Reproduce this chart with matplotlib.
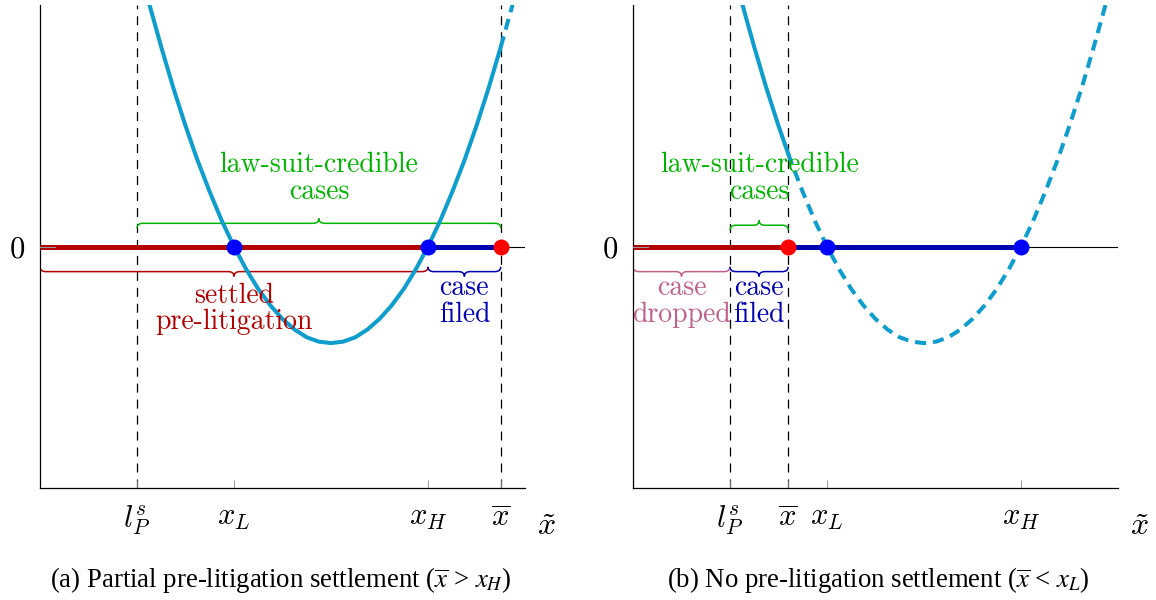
import matplotlib.pyplot as plt
from matplotlib.path import Path
from matplotlib.patches import PathPatch

plt.rcParams['mathtext.fontset'] = 'cm'
plt.rcParams['lines.scale_dashes'] = False

# payoff curve (same shape in both panels)
curve_x = [2.25, 2.5, 2.75, 3.0, 3.2, 3.25, 3.5, 3.75, 4.0, 4.25, 4.5, 4.75,
           5.0, 5.25, 5.5, 5.75, 6.0, 6.25, 6.5, 6.75, 7.0, 7.25, 7.5,
           7.75, 8.0, 8.25, 8.5, 8.75, 9.0, 9.25, 9.5, 9.75]
curve_y = [5.03, 4.13, 3.28, 2.5, 1.92, 1.78, 1.13, 0.53, 0.0, -0.47, -0.88,
           -1.22, -1.5, -1.72, -1.88, -1.97, -2.0, -1.97, -1.88, -1.72,
           -1.5, -1.22, -0.88, -0.47, 0.0, 0.53, 1.13, 1.78, 2.5, 3.28,
           4.13, 5.03]

# panel (a): partial pre-litigation settlement
a_l, a_xL, a_xH, a_xbar = 2.0, 4.0, 8.0, 9.5
a_ticks = [a_l, a_xL, a_xH, a_xbar]
a_ticklabels = [r'$l_P^s$', r'$x_L$', r'$x_H$', r'$\overline{x}$']

# panel (b): no pre-litigation settlement
b_l, b_xbar, b_xL, b_xH = 2.0, 3.2, 4.0, 8.0
b_ticks = [b_l, b_xbar, b_xL, b_xH]
b_ticklabels = [r'$l_P^s$', r'$\overline{x}$', r'$x_L$', r'$x_H$']

captions = [r'(a) Partial pre-litigation settlement ($\overline{x}$ > $x_H$)',
            r'(b) No pre-litigation settlement ($\overline{x}$ < $x_L$)']

CURVE = '#0e9dcc'
RED = '#b30000'
BLUE = '#0000b3'
GREEN = '#00b300'
PINK = '#c0608c'


def brace(ax, x1, x2, y0, up, color):
    s = 1 if up else -1
    r, h = 0.12, 0.1
    xm = (x1 + x2) / 2
    verts = [(x1, y0 - s * h), (x1, y0), (x1 + r, y0),
             (xm - r, y0), (xm, y0), (xm, y0 + s * h),
             (xm, y0), (xm + r, y0),
             (x2 - r, y0), (x2, y0), (x2, y0 - s * h)]
    codes = [Path.MOVETO, Path.CURVE3, Path.CURVE3, Path.LINETO,
             Path.CURVE3, Path.CURVE3, Path.CURVE3, Path.CURVE3,
             Path.LINETO, Path.CURVE3, Path.CURVE3]
    ax.add_patch(PathPatch(Path(verts, codes), fill=False, ec=color,
                           lw=1.1, zorder=2))


def label(ax, x, ys, strs, color):
    for y, s in zip(ys, strs):
        ax.text(x, y, s, ha='center', va='baseline', color=color,
                fontsize=20, family='cmr10', zorder=6)


def setup(ax, ticks, ticklabels):
    ax.set_xlim(0, 10)
    ax.set_ylim(-5, 5)
    ax.spines['top'].set_visible(False)
    ax.spines['right'].set_visible(False)
    ax.spines['left'].set_linewidth(0.9)
    ax.spines['bottom'].set_linewidth(0.9)
    ax.set_xticks(ticks)
    ax.set_xticklabels(ticklabels)
    ax.tick_params(axis='x', direction='in', length=6, width=0.6,
                   color='0.55', labelsize=22, pad=11)
    ax.set_yticks([0])
    ax.set_yticklabels(['0'])
    ax.tick_params(axis='y', length=0, pad=11, labelsize=22)
    for t in ax.get_yticklabels():
        t.set_family('cmr10')
    ax.axhline(0, color='black', lw=0.8, zorder=1)
    ax.plot([0, 0.3], [0, 0], color='0.6', lw=0.8, zorder=4)
    ax.text(10.45, -0.08, r'$\tilde{x}$', transform=ax.get_xaxis_transform(),
            ha='center', va='center', fontsize=23)


def curve(ax, xbar):
    sx = [x for x in curve_x if x <= xbar]
    sy = [y for x, y in zip(curve_x, curve_y) if x <= xbar]
    dx = [x for x in curve_x if x >= xbar]
    dy = [y for x, y in zip(curve_x, curve_y) if x >= xbar]
    ax.plot(sx, sy, color=CURVE, lw=2.9, zorder=4, solid_joinstyle='round')
    ax.plot(dx, dy, color=CURVE, lw=2.9, zorder=4, dashes=(8, 5),
            dash_capstyle='butt')


fig = plt.figure(figsize=(11.56, 6), dpi=100)
axa = fig.add_axes([40 / 1156, 112 / 600, 485 / 1156, 483 / 600])
axb = fig.add_axes([633 / 1156, 112 / 600, 485 / 1156, 483 / 600])

# ---- panel (a)
setup(axa, a_ticks, a_ticklabels)
for x in [a_l, a_xbar]:
    axa.axvline(x, color='black', lw=0.9, dashes=(6.5, 5), zorder=1)
axa.plot([0, a_xH], [0, 0], color=RED, lw=3.6, solid_capstyle='butt', zorder=3)
axa.plot([a_xH, a_xbar], [0, 0], color=BLUE, lw=3.6, solid_capstyle='butt', zorder=3)
curve(axa, a_xbar)
axa.plot([a_xL, a_xH], [0, 0], 'o', color='#0000ff', ms=11.5, mew=0, zorder=5)
axa.plot([a_xbar], [0], 'o', color='#ff0000', ms=11.5, mew=0, zorder=5)
brace(axa, a_l, a_xbar, 0.48, True, GREEN)
brace(axa, 0, a_xH, -0.52, False, RED)
brace(axa, a_xH, a_xbar, -0.52, False, BLUE)
label(axa, (a_l + a_xbar) / 2, [1.55, 0.99], ['law-suit-credible', 'cases'], GREEN)
label(axa, a_xH / 2, [-1.16, -1.70], ['settled', 'pre-litigation'], RED)
label(axa, (a_xH + a_xbar) / 2, [-1.01, -1.57], ['case', 'filed'], BLUE)

# ---- panel (b)
setup(axb, b_ticks, b_ticklabels)
for x in [b_l, b_xbar]:
    axb.axvline(x, color='black', lw=0.9, dashes=(6.5, 5), zorder=1)
axb.plot([0, b_xbar], [0, 0], color=RED, lw=3.6, solid_capstyle='butt', zorder=3)
axb.plot([b_xbar, b_xH], [0, 0], color=BLUE, lw=3.6, solid_capstyle='butt', zorder=3)
curve(axb, b_xbar)
axb.plot([b_xL, b_xH], [0, 0], 'o', color='#0000ff', ms=11.5, mew=0, zorder=5)
axb.plot([b_xbar], [0], 'o', color='#ff0000', ms=11.5, mew=0, zorder=5)
brace(axb, b_l, b_xbar, 0.44, True, GREEN)
brace(axb, 0, b_l, -0.52, False, PINK)
brace(axb, b_l, b_xbar, -0.52, False, BLUE)
label(axb, (b_l + b_xbar) / 2, [1.55, 0.99], ['law-suit-credible', 'cases'], GREEN)
label(axb, b_l / 2, [-1.01, -1.57], ['case', 'dropped'], PINK)
label(axb, (b_l + b_xbar) / 2, [-1.01, -1.57], ['case', 'filed'], BLUE)

fig.text(281 / 1156, 1 - 580 / 600, captions[0], ha='center', va='center',
         fontsize=19.3, family='Liberation Serif', math_fontfamily='stix')
fig.text(878 / 1156, 1 - 580 / 600, captions[1], ha='center', va='center',
         fontsize=19.3, family='Liberation Serif', math_fontfamily='stix')

fig.savefig('out.png', dpi=100)
